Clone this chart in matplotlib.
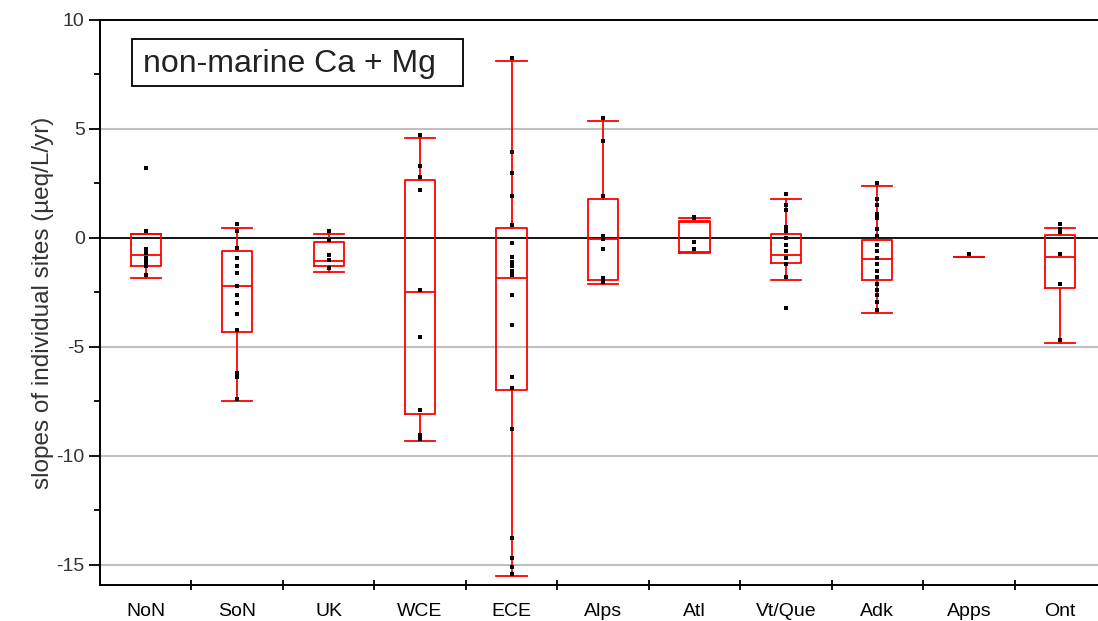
import matplotlib.pyplot as plt
from matplotlib.patches import Rectangle

plt.rcParams['font.family'] = ['Liberation Sans', 'DejaVu Sans']
plt.rcParams['axes.unicode_minus'] = False

regions = ['NoN', 'SoN', 'UK', 'WCE', 'ECE', 'Alps', 'Atl', 'Vt/Que', 'Adk', 'Apps', 'Ont']

# box statistics (µeq/L/yr)
q1 = [-1.27, -4.33, -1.27, -8.06, -6.97, -1.93, -0.68, -1.16, -1.93, -0.89, -2.29]
med = [-0.78, -2.2, -1.04, -2.5, -1.82, -0.06, 0.75, -0.78, -0.96, -0.89, -0.89]
q3 = [0.18, -0.58, -0.2, 2.66, 0.44, 1.79, 0.8, 0.17, -0.09, -0.89, 0.12]
wlo = [-1.82, -7.48, -1.55, -9.3, -15.5, -2.1, -0.65, -1.93, -3.45, -0.89, -4.8]
whi = [0.2, 0.47, 0.18, 4.6, 8.13, 5.37, 0.9, 1.8, 2.39, -0.89, 0.47]

# individual site slopes
sites = [
    [3.2, 0.33, -0.5, -0.7, -0.9, -1.1, -1.3, -1.7],
    [0.64, 0.33, -0.44, -0.92, -1.3, -1.6, -2.2, -2.6, -3.0, -3.5, -4.2, -6.2, -6.4, -7.4],
    [0.3, -0.1, -0.8, -1.0, -1.4],
    [4.72, 3.3, 2.8, 2.2, -2.4, -4.56, -7.9, -9.04, -9.2],
    [8.24, 3.96, 3.0, 1.94, 0.6, -0.23, -0.86, -1.1, -1.3, -1.5, -1.7, -2.6, -4.0,
     -6.38, -6.87, -8.78, -13.76, -14.7, -15.08, -15.4],
    [5.49, 4.45, 1.94, 0.1, -0.05, -0.52, -1.85, -2.0],
    [0.9, 0.95, -0.2, -0.52],
    [2.0, 1.5, 1.3, 0.5, 0.3, 0.0, -0.3, -0.6, -0.9, -1.2, -1.77, -3.23],
    [2.54, 1.8, 1.5, 1.1, 0.9, 0.4, 0.1, -0.3, -0.6, -0.9, -1.2, -1.5, -1.8, -2.1,
     -2.4, -2.6, -2.92, -3.3],
    [-0.73],
    [0.64, 0.4, 0.29, -0.73, -2.1, -4.68],
]

fig = plt.figure(figsize=(10.98, 6.21), dpi=100)
ax = fig.add_axes([100 / 1098, 36 / 621, 1006 / 1098, 565 / 621])

stats = [{'med': med[i], 'q1': q1[i], 'q3': q3[i], 'whislo': wlo[i], 'whishi': whi[i]}
         for i in range(len(regions))]
red = dict(color='#ff0000', linewidth=1.3)
ax.bxp(stats, positions=range(len(regions)), widths=0.33, capwidths=0.33,
       showfliers=False, boxprops=red, whiskerprops=red, capprops=red,
       medianprops=red, zorder=3)

for i, vals in enumerate(sites):
    ax.plot([i] * len(vals), vals, ls='none', marker='s', ms=2.7, mew=0,
            color='black', zorder=4)

for g in [5, -5, -10, -15]:
    ax.axhline(g, color='#c0c0c0', lw=1.5, zorder=1)
ax.axhline(0, color='black', lw=1.3, zorder=2)

ax.set_xlim(-0.5, 10.5)
ax.set_ylim(-15.92, 10)
ax.set_yticks([10, 5, 0, -5, -10, -15])
ax.set_yticks([7.5, 2.5, -2.5, -7.5, -12.5], minor=True)
ax.set_xticks(range(len(regions)))
ax.set_xticklabels(regions)
ax.set_xticks([i + 0.5 for i in range(len(regions) - 1)], minor=True)
ax.tick_params(axis='x', which='major', length=0, labelsize=14, pad=13)
ax.tick_params(axis='x', which='minor', direction='inout', length=7, width=1.3)
ax.tick_params(axis='y', which='major', direction='out', length=8, width=1.3,
               labelsize=14, pad=3, labelcolor='#333333')
ax.tick_params(axis='y', which='minor', direction='out', length=4, width=1.3)
for s in ax.spines.values():
    s.set_linewidth(1.4)
ax.spines['right'].set_visible(False)

ax.set_ylabel('slopes of individual sites (µeq/L/yr)', fontsize=17.5, labelpad=2,
              color='#333333')

# label box
ax.add_patch(Rectangle((0.0315, 0.8832), 0.3295, 0.0826, transform=ax.transAxes,
                       fc='white', ec='black', lw=1.3, zorder=5))
ax.text(0.0424, 0.923, 'non-marine Ca + Mg', transform=ax.transAxes, fontsize=23,
        va='center', ha='left', color='#222222', zorder=6)

fig.savefig('out.png', dpi=100)
